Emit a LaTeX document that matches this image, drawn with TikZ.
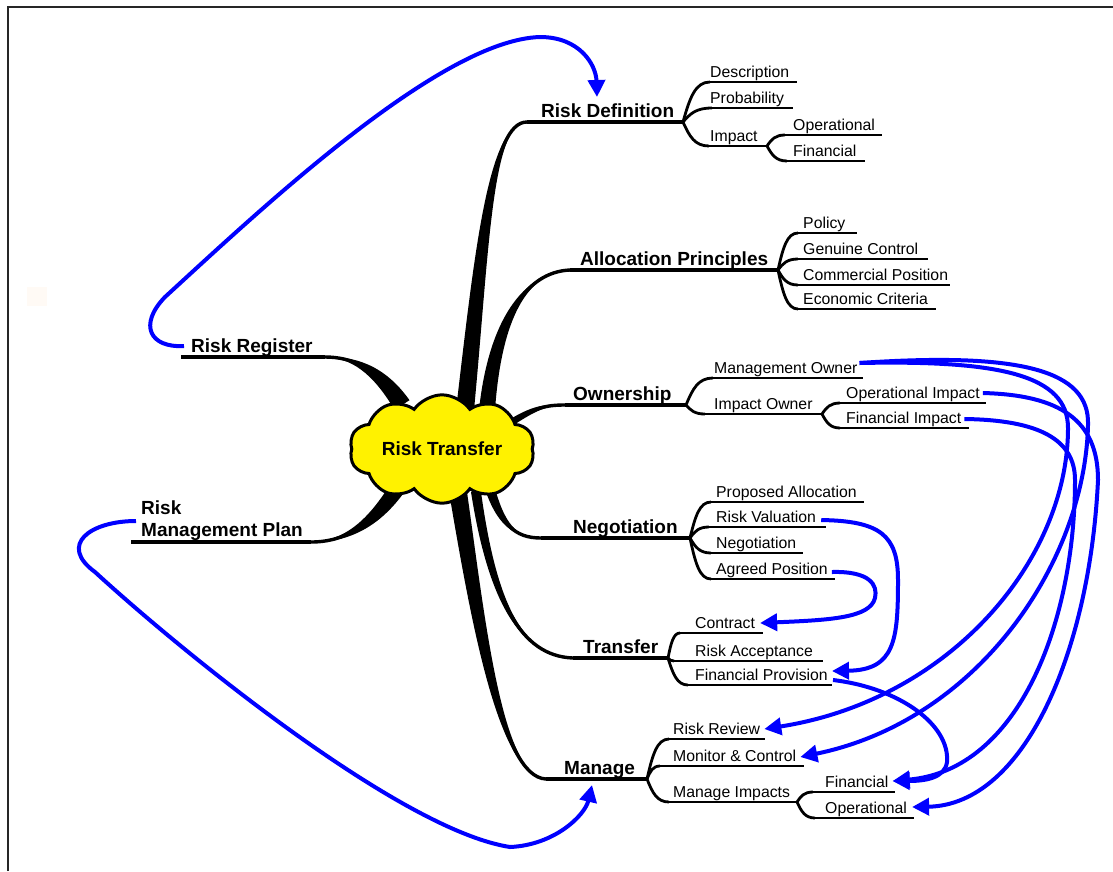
\documentclass[tikz,border=0pt]{standalone}
\usepackage{fontspec}
\setmainfont{Liberation Sans}
\usetikzlibrary{shapes.symbols,arrows.meta,calc}

\newcommand\br[5]{%
  \fill ($(#1)+(#5)$) .. controls ($(#2)+0.8*(#5)$) and ($(#3)+0.2*(#5)$) .. (#4)
        .. controls ($(#3)-0.2*(#5)$) and ($(#2)-0.8*(#5)$) .. ($(#1)-(#5)$) -- cycle;
  \draw[line width=3.4pt] (#1) .. controls (#2) and (#3) .. (#4);}
\newcommand\fk[2]{%
  \draw[sub] let \p1=(#1), \p2=(#2) in (\p1) .. controls
    ({\x1+0.25*(\x2-\x1)},{\y1+0.6*(\y2-\y1)}) and ({\x1+0.45*(\x2-\x1)},\y2) .. (\p2);}
\newcommand\lf[3]{\fk{#1}{#2}\draw[sub] (#2) -- (#3);}

\begin{document}
\begin{tikzpicture}[x=1pt,y=-1pt,
  main/.style={font=\fontsize{19}{22}\selectfont\bfseries, inner sep=0pt, anchor=base west},
  leaf/.style={font=\fontsize{15.8}{18}\selectfont, inner sep=0pt, anchor=base west},
  sub/.style={line width=2.8pt},
  mline/.style={line width=3.4pt},
  link/.style={draw=blue, line width=4pt, -{Triangle[length=17pt,width=17pt]}},
  ]
\useasboundingbox (0,0) rectangle (1113,871);
\fill[white] (0,0) rectangle (1113,871);
% frame
\draw[black!85, line width=2.2pt] (8,871) -- (8,7) -- (1113,7);
\fill[orange!4] (27,287) rectangle (47,306);

% branch coordinates
\coordinate (sRD) at (465,410);  \coordinate (rdA) at (527,122); \coordinate (fRD) at (683,122);
\coordinate (sAP) at (487,410);  \coordinate (apA) at (570,270); \coordinate (fAP) at (778,270);
\coordinate (sOW) at (512,422);  \coordinate (owA) at (565,405); \coordinate (fOW) at (686,405);
\coordinate (sNG) at (488,482);  \coordinate (ngA) at (541,538); \coordinate (fNG) at (690,538);
\coordinate (sTR) at (476,492);  \coordinate (trA) at (573,658); \coordinate (fTR) at (668,658);
\coordinate (sMG) at (458,492);  \coordinate (mgA) at (546,779); \coordinate (fMG) at (647,779);
\coordinate (sRR) at (402,405);  \coordinate (rrE) at (325,357); \coordinate (rrA) at (181,357);
\coordinate (sRM) at (396,490);  \coordinate (rmE) at (311,542); \coordinate (rmA) at (131,542);
\coordinate (fImp) at (767,146); \coordinate (fIO) at (822,414); \coordinate (fMI) at (797,802);

% main tapered branches
\br{sRD}{482,250}{490,122}{rdA}{9,0}
\br{sAP}{495,320}{525,272}{apA}{8,0}
\br{sOW}{535,408}{545,405}{owA}{0,4}
\br{sNG}{500,525}{515,538}{ngA}{5,-1}
\br{sTR}{492,600}{520,656}{trA}{5,0}
\br{sMG}{478,620}{500,777}{mgA}{9,0}
\br{sRR}{378,368}{352,357}{rrE}{7.5,-4.8}
\br{sRM}{372,525}{345,542}{rmE}{6.6,4.4}

% central cloud
\node[cloud, cloud puffs=10, cloud puff arc=110, aspect=2, minimum width=185pt, minimum height=90pt,
      fill=yellow, draw=black, line width=3pt, inner sep=0pt,
      font=\fontsize{19}{22}\selectfont\bfseries] (rt) at (442,449) {Risk Transfer};

% main underlines
\draw[mline] (rdA) -- (fRD);
\draw[mline] (apA) -- (fAP);
\draw[mline] (owA) -- (fOW);
\draw[mline] (ngA) -- (fNG);
\draw[mline] (trA) -- (fTR);
\draw[mline] (mgA) -- (fMG);
\draw[mline] (rrA) -- (rrE);
\draw[mline] (rmA) -- (rmE);

% sub branches
\lf{fRD}{710,82}{797,82}
\lf{fRD}{712,108}{793,108}
\lf{fRD}{709,146}{fImp}
\lf{fImp}{785,135}{882,135}
\lf{fImp}{787,161}{865,161}
\lf{fAP}{798,233}{857,233}
\lf{fAP}{798,259}{928,259}
\lf{fAP}{798,285}{950,285}
\lf{fAP}{798,309}{936,309}
\lf{fOW}{713,378}{863,378}
\lf{fOW}{705,414}{fIO}
\lf{fIO}{840,403}{986,403}
\lf{fIO}{840,428}{969,428}
\lf{fNG}{711,502}{864,502}
\lf{fNG}{709,527}{826,527}
\lf{fNG}{711,553}{803,553}
\lf{fNG}{711,579}{835,579}
\lf{fTR}{680,633}{763,633}
\lf{fTR}{674,661}{823,661}
\lf{fTR}{688,685}{832,685}
\lf{fMG}{669,739}{765,739}
\lf{fMG}{660,766}{804,766}
\lf{fMG}{669,802}{fMI}
\lf{fMI}{813,792}{895,792}
\lf{fMI}{815,818}{914,818}

% main labels
\node[main] (rd) at (541,117) {Risk Definition};
\node[main] (ap) at (580,265) {Allocation Principles};
\node[main] (ow) at (573,400) {Ownership};
\node[main] (ng) at (573,533) {Negotiation};
\node[main] (tr) at (583,653) {Transfer};
\node[main] (mg) at (564,774) {Manage};
\node[main] (rr) at (191,352) {Risk Register};
\node[main] (rmpA) at (141,514) {Risk};
\node[main] (rmpB) at (141,536) {Management Plan};

% leaf labels
\node[leaf] (desc) at (710,77) {Description};
\node[leaf] (prob) at (710,103) {Probability};
\node[leaf] (imp) at (710,141) {Impact};
\node[leaf] (iop) at (793,130) {Operational};
\node[leaf] (ifin) at (793,156) {Financial};
\node[leaf] (pol) at (803,228) {Policy};
\node[leaf] (gc) at (803,254) {Genuine Control};
\node[leaf] (cp) at (803,280) {Commercial Position};
\node[leaf] (ec) at (803,304) {Economic Criteria};
\node[leaf] (mo) at (714,373) {Management Owner};
\node[leaf] (io) at (714,409) {Impact Owner};
\node[leaf] (oi) at (846,398) {Operational Impact};
\node[leaf] (fi) at (846,423) {Financial Impact};
\node[leaf] (pa) at (716,497) {Proposed Allocation};
\node[leaf] (rv) at (716,522) {Risk Valuation};
\node[leaf] (neg) at (716,548) {Negotiation};
\node[leaf] (agp) at (716,574) {Agreed Position};
\node[leaf] (con) at (695,628) {Contract};
\node[leaf] (ra) at (695,656) {Risk Acceptance};
\node[leaf] (fp) at (695,680) {Financial Provision};
\node[leaf] (rrev) at (673,734) {Risk Review};
\node[leaf] (mc) at (673,761) {Monitor \& Control};
\node[leaf] (mi) at (673,797) {Manage Impacts};
\node[leaf] (mfin) at (825,787) {Financial};
\node[leaf] (mop) at (825,813) {Operational};

% blue links
\draw[link] ($(rr.base west)+(-7,-6)$) .. controls (150,348) and (138,325) .. (165,297)
   .. controls (260,210) and (440,40) .. (540,37)
   .. controls (580,37) and (596,65) .. ($(rd.base west)+(56,-20)$);
\draw[link] ($(rmpB.base west)+(-5,-15)$) .. controls (90,521) and (58,545) .. (95,572)
   .. controls (180,650) and (400,830) .. (510,847)
   .. controls (555,845) and (585,815) .. ($(mg.base west)+(28,11)$);
\draw[link] ($(mo.base east)+(2,-10)$) .. controls (1000,360) and (1068,375) .. (1068,428)
   .. controls (1068,560) and (950,700) .. ($(rrev.base east)+(4,-5)$);
\draw[link] ($(mo.base east)+(2,-10)$) .. controls (1020,352) and (1090,370) .. (1088,425)
   .. controls (1085,560) and (980,720) .. ($(mc.base east)+(4,-4)$);
\draw[link] ($(oi.base east)+(3,-5)$) .. controls (1060,395) and (1098,420) .. (1098,480)
   .. controls (1090,650) and (1025,805) .. ($(mop.base east)+(5,-6)$);
\draw[link] ($(fi.base east)+(3,-4)$) .. controls (1040,420) and (1075,440) .. (1075,480)
   .. controls (1075,620) and (1020,770) .. ($(mfin.base east)+(4,-6)$);
\draw[link] ($(fp.base east)+(5,0)$) .. controls (900,688) and (950,725) .. (947,762)
   .. controls (945,778) and (925,781) .. ($(mfin.base east)+(4,-6)$);
\draw[link] ($(rv.base east)+(5,-2)$) .. controls (880,521) and (898,535) .. (898,580)
   .. controls (898,640) and (895,670) .. ($(fp.base east)+(4,-9)$);
\draw[link] ($(agp.base east)+(4,-2)$) .. controls (870,571) and (878,585) .. (875,598)
   .. controls (870,618) and (830,620) .. ($(con.base east)+(5,-5)$);
\end{tikzpicture}
\end{document}
